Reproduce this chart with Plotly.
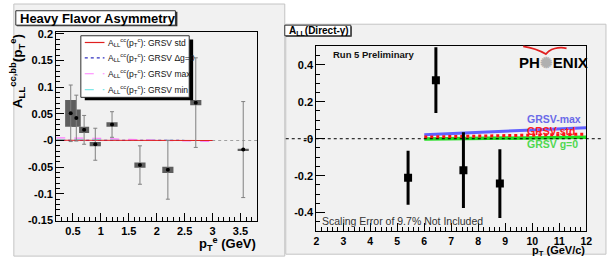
import plotly.graph_objects as go

W, H = 609, 265
def PX(px): return px / W
def PY(py): return 1 - py / H

FONT = "Liberation Sans, Arial, Helvetica, sans-serif"

# ---------------- data: left panel (heavy flavour) ----------------
hf_pt = [0.46, 0.56, 0.70, 0.90, 1.2, 1.7, 2.2, 2.7, 3.55]
hf_all = [0.051, 0.042, 0.020, -0.007, 0.030, -0.046, -0.055, 0.071, -0.017]
hf_stat = [0.053, 0.043, 0.027, 0.030, 0.024, 0.036, 0.055, 0.084, 0.090]
hf_sys = [0.025, 0.016, 0.006, 0.004, 0.004, 0.005, 0.006, 0.005, 0.0015]
hf_boxw = [0.20, 0.16, 0.18, 0.20, 0.20, 0.20, 0.20, 0.20, 0.20]

th_pt = [0.2, 0.5, 1.0, 1.5, 2.0, 2.5, 3.0]
th_std = [0.0005, 0.0005, 0.0004, 0.0003, 0.0002, 0.0001, 0.0]
th_dg0 = [0.0003, 0.0003, 0.0002, 0.0002, 0.0001, 0.0, 0.0]
th_max = [0.005, 0.005, 0.004, 0.002, 0.001, 0.0, -0.002]
th_min = [0.002, 0.002, 0.002, 0.001, 0.001, 0.0, -0.001]

left_xrange = [0.2, 3.8]
left_yrange = [-0.15, 0.2036]
left_yticks = [-0.15, -0.1, -0.05, 0.0, 0.05, 0.1, 0.15, 0.2]
left_yticktext = ["-0.15", "-0.1", "-0.05", "-0", "0.05", "0.1", "0.15", "0.2"]

legend_labels = [
    "A<sub>LL</sub><sup>cc</sup>(p<sub>T</sub><sup>c</sup>): GRSV std",
    "A<sub>LL</sub><sup>cc</sup>(p<sub>T</sub><sup>c</sup>): GRSV \u0394g=0",
    "A<sub>LL</sub><sup>cc</sup>(p<sub>T</sub><sup>c</sup>): GRSV max",
    "A<sub>LL</sub><sup>cc</sup>(p<sub>T</sub><sup>c</sup>): GRSV min",
]
legend_colors = ["#e02020", "#3030c0", "#ff80ff", "#80e8e8"]
legend_dash = ["solid", "dot", "dash", "dash"]

# ---------------- data: right panel (direct photon) ----------------
dg_pt = [5.4, 6.43, 7.45, 8.8]
dg_all = [-0.211, 0.317, -0.170, -0.243]
dg_err = [0.146, 0.178, 0.205, 0.186]

grsv_pt = [6, 7, 8, 9, 10, 11, 12]
grsv_max = [0.021, 0.027, 0.033, 0.040, 0.046, 0.053, 0.060]
grsv_std = [0.009, 0.011, 0.014, 0.017, 0.020, 0.022, 0.025]
grsv_g0 = [-0.002, 0.000, 0.002, 0.003, 0.005, 0.006, 0.008]

right_xrange = [2, 12]
right_yrange = [-0.5, 0.5]
right_yticks = [-0.4, -0.2, 0.0, 0.2, 0.4]
right_yticktext = ["-0.4", "-0.2", "-0", "0.2", "0.4"]

fig = go.Figure()

# ---- left traces ----
fig.add_trace(go.Scatter(x=left_xrange, y=[0, 0], mode="lines",
                         line=dict(color="#a0a0a0", width=1, dash="dot"),
                         xaxis="x", yaxis="y", showlegend=False))
th_series = [th_std, th_dg0, th_max, th_min]
for i in [1, 3, 2, 0]:
    fig.add_trace(go.Scatter(x=th_pt, y=th_series[i], mode="lines",
                             line=dict(color=legend_colors[i], width=1.2, dash=legend_dash[i]),
                             xaxis="x", yaxis="y", showlegend=False))
fig.add_trace(go.Bar(x=hf_pt, y=[2 * s for s in hf_sys],
                     base=[a - s for a, s in zip(hf_all, hf_sys)],
                     width=hf_boxw, marker=dict(color="#5e5e5e", line=dict(width=0)),
                     xaxis="x", yaxis="y", showlegend=False))
fig.add_trace(go.Scatter(x=hf_pt, y=hf_all, mode="markers",
                         marker=dict(color="black", size=4),
                         error_y=dict(type="data", array=hf_stat, color="#808080",
                                      thickness=1, width=2),
                         xaxis="x", yaxis="y", showlegend=False))

# ---- right traces ----
fig.add_trace(go.Scatter(x=grsv_pt, y=grsv_max, mode="lines",
                         line=dict(color="#6060ff", width=3), xaxis="x2", yaxis="y2",
                         showlegend=False))
fig.add_trace(go.Scatter(x=grsv_pt, y=grsv_g0, mode="lines",
                         line=dict(color="#20e020", width=3.5), xaxis="x2", yaxis="y2",
                         showlegend=False))
fig.add_trace(go.Scatter(x=grsv_pt, y=grsv_std, mode="lines",
                         line=dict(color="#ff1010", width=3, dash="dot"), xaxis="x2", yaxis="y2",
                         showlegend=False))
fig.add_trace(go.Scatter(x=dg_pt, y=dg_all, mode="markers",
                         marker=dict(color="black", size=8, symbol="square"),
                         error_y=dict(type="data", array=dg_err, color="black",
                                      thickness=3, width=0),
                         xaxis="x2", yaxis="y2", showlegend=False))

shapes = []
# panel backgrounds
shapes.append(dict(type="rect", xref="paper", yref="paper", x0=PX(11), x1=PX(286),
                   y0=PY(262), y1=PY(0), fillcolor="#f1f1f1",
                   line=dict(color="#c4c4c4", width=1), layer="below"))
shapes.append(dict(type="rect", xref="paper", yref="paper", x0=PX(287), x1=PX(612),
                   y0=PY(260), y1=PY(21), fillcolor="#f1f1f1",
                   line=dict(color="#c4c4c4", width=1), layer="below"))
# left title box
shapes.append(dict(type="rect", xref="paper", yref="paper", x0=PX(14), x1=PX(177),
                   y0=PY(23), y1=PY(8), fillcolor="#303030", line=dict(width=0)))
shapes.append(dict(type="rect", xref="paper", yref="paper", x0=PX(13), x1=PX(175),
                   y0=PY(22), y1=PY(7), fillcolor="white",
                   line=dict(color="#303030", width=1)))
# right title box
shapes.append(dict(type="rect", xref="paper", yref="paper", x0=PX(287), x1=PX(354),
                   y0=PY(34), y1=PY(23), fillcolor="#303030", line=dict(width=0)))
shapes.append(dict(type="rect", xref="paper", yref="paper", x0=PX(286), x1=PX(353),
                   y0=PY(33), y1=PY(22), fillcolor="white",
                   line=dict(color="#303030", width=1)))
# left legend (shadow + box)
shapes.append(dict(type="rect", xref="paper", yref="paper", x0=PX(83), x1=PX(193),
                   y0=PY(100), y1=PY(37), fillcolor="black", line=dict(width=0)))
shapes.append(dict(type="rect", xref="paper", yref="paper", x0=PX(79), x1=PX(189),
                   y0=PY(97), y1=PY(33), fillcolor="white",
                   line=dict(color="#303030", width=1)))
leg_y = [40, 56, 72.5, 89]
annotations = []
for i, lab in enumerate(legend_labels):
    shapes.append(dict(type="line", xref="paper", yref="paper", x0=PX(83), x1=PX(103),
                       y0=PY(leg_y[i]), y1=PY(leg_y[i]),
                       line=dict(color=legend_colors[i], width=1.2, dash=legend_dash[i])))
    annotations.append(dict(xref="paper", yref="paper", x=PX(105), y=PY(leg_y[i]),
                            xanchor="left", yanchor="middle", text=lab, showarrow=False,
                            font=dict(family=FONT, size=8.5, color="#111")))
# right zero line extending beyond frame
shapes.append(dict(type="line", xref="paper", yref="y2", x0=PX(287), x1=1, y0=0, y1=0,
                   line=dict(color="black", width=1, dash="dot")))
# PHENIX logo arc
arc = "M {},{} Q {},{} {},{} L {},{} Q {},{} {},{}".format(
    PX(528), PY(44), PX(541), PY(46), PX(551), PY(52),
    PX(554), PY(49), PX(562), PY(44), PX(572), PY(46))
shapes.append(dict(type="path", xref="paper", yref="paper", path=arc,
                   line=dict(color="#e02020", width=1.8)))

annotations += [
    dict(xref="paper", yref="paper", x=PX(15), y=PY(15), xanchor="left", yanchor="middle",
         text="<b>Heavy Flavor Asymmetry</b>", showarrow=False,
         font=dict(family=FONT, size=13, color="black")),
    dict(xref="paper", yref="paper", x=PX(288), y=PY(28), xanchor="left", yanchor="middle",
         text="<b>A<sub>LL</sub>(Direct-\u03b3)</b>", showarrow=False,
         font=dict(family=FONT, size=10, color="black")),
    dict(xref="paper", yref="paper", x=PX(15), y=PY(70), xanchor="center", yanchor="middle",
         textangle=-90, text="<b>A<sub>LL</sub><sup>cc,bb</sup>(p<sub>T</sub><sup>e</sup>)</b>",
         showarrow=False, font=dict(family=FONT, size=13.5, color="black")),
    dict(xref="paper", yref="paper", x=PX(259), y=PY(261), xanchor="right", yanchor="bottom",
         text="<b>p<sub>T</sub><sup>e</sup> (GeV)</b>", showarrow=False,
         font=dict(family=FONT, size=13, color="black")),
    dict(xref="paper", yref="paper", x=PX(593), y=PY(247), xanchor="right", yanchor="top",
         text="<b>p<sub>T</sub> (GeV/c)</b>", showarrow=False,
         font=dict(family=FONT, size=11, color="black")),
    dict(xref="paper", yref="paper", x=PX(333), y=PY(52), xanchor="left", yanchor="middle",
         text="<b>Run 5 Preliminary</b>", showarrow=False,
         font=dict(family=FONT, size=9.5, color="#111")),
    dict(xref="paper", yref="paper", x=PX(322), y=PY(226), xanchor="left", yanchor="middle",
         text="Scaling Error of 9.7% Not Included", showarrow=False,
         font=dict(family=FONT, size=10.5, color="#333")),
    dict(xref="paper", yref="paper", x=PX(522), y=PY(61), xanchor="left", yanchor="middle",
         text="<b>PH<span style='color:#b0b0b0'>\u273a</span>ENIX</b>", showarrow=False,
         font=dict(family=FONT, size=15, color="black")),
    dict(xref="paper", yref="paper", x=PX(530), y=PY(119), xanchor="left", yanchor="middle",
         text="<b>GRSV-max</b>", showarrow=False,
         font=dict(family=FONT, size=10.5, color="#6a6ae8")),
    dict(xref="paper", yref="paper", x=PX(530), y=PY(132), xanchor="left", yanchor="middle",
         text="<b>GRSV-std</b>", showarrow=False,
         font=dict(family=FONT, size=10.5, color="#ff2020")),
    dict(xref="paper", yref="paper", x=PX(530), y=PY(146), xanchor="left", yanchor="middle",
         text="<b>GRSV g=0</b>", showarrow=False,
         font=dict(family=FONT, size=10.5, color="#50d850")),
]

tickfont = dict(family=FONT, size=11, color="black", weight="bold")
common = dict(showline=True, linecolor="black", linewidth=1, mirror=True,
              ticks="inside", tickcolor="black", showgrid=False, zeroline=False)

fig.update_layout(
    width=W, height=H, autosize=False,
    margin=dict(l=0, r=0, t=0, b=0),
    paper_bgcolor="white", plot_bgcolor="rgba(0,0,0,0)",
    barmode="overlay", showlegend=False,
    shapes=shapes, annotations=annotations,
    xaxis=dict(domain=[PX(54), PX(258)], range=left_xrange, anchor="y",
               tick0=0, dtick=0.5, ticklen=8, tickfont=tickfont,
               minor=dict(ticks="inside", ticklen=4, dtick=0.1, tickcolor="black"),
               **common),
    yaxis=dict(domain=[PY(225), PY(29)], range=left_yrange, anchor="x",
               tickmode="array", tickvals=left_yticks, ticktext=left_yticktext, ticklen=8,
               tickfont=tickfont,
               minor=dict(ticks="inside", ticklen=4, tickmode="linear", tick0=0, dtick=0.01,
                          tickcolor="black"),
               **common),
    xaxis2=dict(domain=[PX(318), PX(592)], range=right_xrange, anchor="y2",
                tick0=0, dtick=1, ticklen=8,
                tickfont=dict(family=FONT, size=10.5, color="black", weight="bold"),
                minor=dict(ticks="inside", ticklen=4, dtick=0.2, tickcolor="black"),
                **common),
    yaxis2=dict(domain=[PY(236), PY(44)], range=right_yrange, anchor="x2",
                tickmode="array", tickvals=right_yticks, ticktext=right_yticktext, ticklen=9,
                tickfont=tickfont,
                minor=dict(ticks="inside", ticklen=4, tickmode="linear", tick0=0, dtick=0.05,
                           tickcolor="black"),
                **common),
)

fig.write_html("out.html", config={"displayModeBar": False},
               post_script="document.body.style.margin='0';document.body.style.overflow='hidden';")
